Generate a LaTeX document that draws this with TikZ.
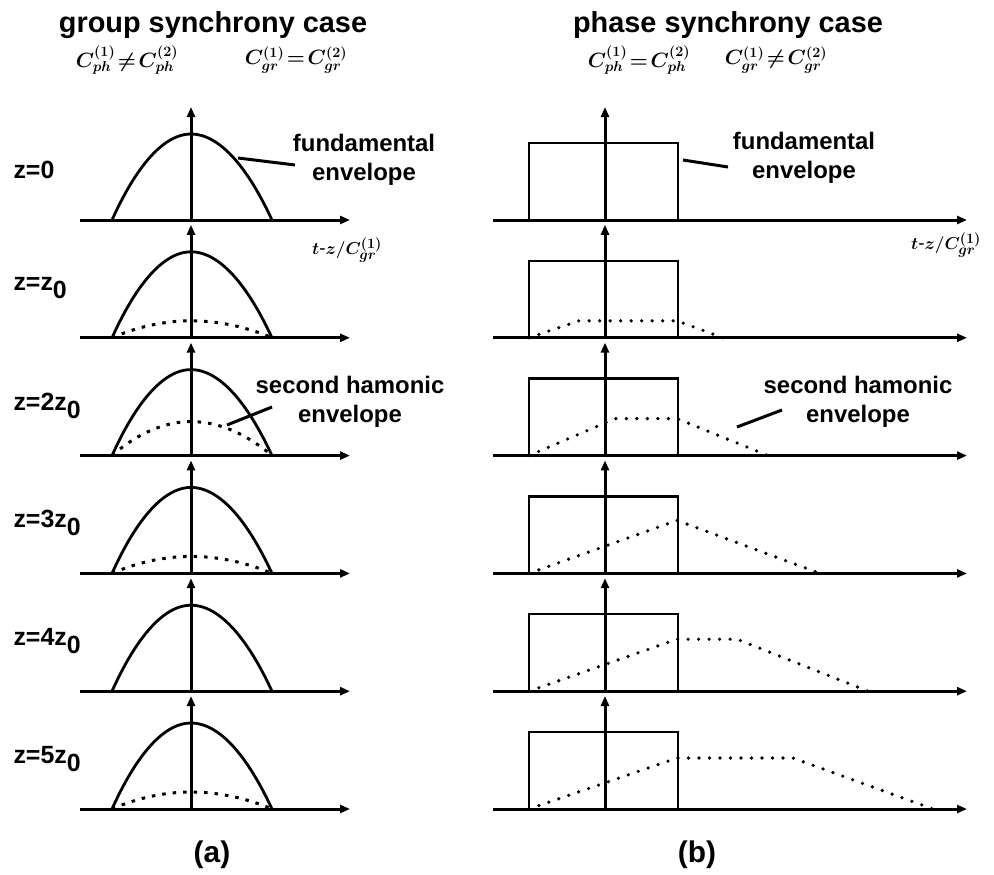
\documentclass[tikz,border=0pt]{standalone}
\usepackage{fontspec}
\setmainfont{Liberation Sans}
\usetikzlibrary{arrows.meta}

% lowered subscript digit in the row labels
\newcommand{\zsub}[1]{\raisebox{-8bp}{#1}}

\begin{document}
\begin{tikzpicture}[x=1bp, y=-1bp,
    axis/.style={line width=3bp, -{Triangle[length=10bp,width=8bp]}},
    fund/.style={line width=2.8bp},
    pulse/.style={line width=2.5bp},
    harmgrp/.style={line width=3bp, dash pattern=on 3.5bp off 7bp},
    harmph/.style={line width=3.6bp, line cap=round, dash pattern=on 0bp off 10.5bp},
    leader/.style={line width=3bp},
    title/.style={font=\fontsize{29}{34}\selectfont\bfseries, anchor=base},
    rowlbl/.style={font=\fontsize{25}{30}\selectfont\bfseries, anchor=west},
    note/.style={font=\fontsize{24}{29}\selectfont\bfseries, align=center},
    formula/.style={font=\fontsize{20}{24}\selectfont\boldmath},
    taxis/.style={font=\fontsize{19}{22}\selectfont\boldmath},
    caption/.style={font=\fontsize{30}{34}\selectfont\bfseries}
  ]
  \useasboundingbox (0,0) rectangle (994,875);

  % titles
  \node[title] (grptitle) at (213,32) {group synchrony case};
  \node[title] (phtitle) at (728,32) {phase synchrony case};
  \node[formula] (grpph) at (127,60) {$C^{(1)}_{ph}\!\neq\! C^{(2)}_{ph}$};
  \node[formula] (grpgr) at (296,60) {$C^{(1)}_{gr}\!=\! C^{(2)}_{gr}$};
  \node[formula] (phph) at (639,60) {$C^{(1)}_{ph}\!=\! C^{(2)}_{ph}$};
  \node[formula] (phgr) at (776,60) {$C^{(1)}_{gr}\!\neq\! C^{(2)}_{gr}$};

  % rows: index / label / dashed height (a) / dotted height, ramp end, flat end, tail end (b)
  \foreach \row/\zlbl/\hgrp/\hph/\rise/\flat/\fall in {
      0/z=0/0/0/529/529/529,
      1/z=z\zsub{0}/17/17/579/677/723,
      2/z=2z\zsub{0}/34/37/615/677/768,
      3/z=3z\zsub{0}/17/53/677/677/820,
      4/z=4z\zsub{0}/0/52/677/737/868,
      5/z=5z\zsub{0}/17/51/677/793/933}{%
    \pgfmathsetmacro\base{220+117.8*\row}
    \node[rowlbl] (zrow\row) at (10,\base-50) {\zlbl};
    % (a) group synchrony
    \ifnum\hgrp>0
      \draw[harmgrp] (112,\base) parabola bend (191,\base-\hgrp) (272,\base);
    \fi
    \draw[fund] (112,\base) parabola bend (191,\base-86) (272,\base);
    \draw[axis] (80,\base) -- (350,\base);
    \draw[axis] (191,\base) -- (191,\base-113);
    % (b) phase synchrony
    \ifnum\hph>0
      \draw[harmph] (529,\base) -- (\rise,\base-\hph) -- (\flat,\base-\hph) -- (\fall,\base);
    \fi
    \draw[pulse] (529,\base) |- (678,\base-77) -- (678,\base);
    \draw[axis] (493,\base) -- (967,\base);
    \draw[axis] (605,\base) -- (605,\base-113);
  }

  % time axis labels
  \node[taxis] (taxa) at (347,250) {$t$-$z/C^{(1)}_{gr}$};
  \node[taxis] (taxb) at (946,245) {$t$-$z/C^{(1)}_{gr}$};

  % envelope notes with leaders
  \node[note] (fundlbla) at (364,160) {fundamental\\envelope};
  \node[note] (fundlblb) at (804,158) {fundamental\\envelope};
  \node[note] (harmlbla) at (350,402) {second hamonic\\envelope};
  \node[note] (harmlblb) at (858,402) {second hamonic\\envelope};
  \coordinate (fundtipa) at (238,158);
  \coordinate (fundenda) at (295,165);
  \coordinate (fundtipb) at (683,160);
  \coordinate (fundendb) at (728,167);
  \coordinate (harmtipa) at (227,425);
  \coordinate (harmenda) at (272,407);
  \coordinate (harmtipb) at (737,427);
  \coordinate (harmendb) at (782,410);
  \draw[leader] (fundtipa) -- (fundenda);
  \draw[leader] (fundtipb) -- (fundendb);
  \draw[leader] (harmtipa) -- (harmenda);
  \draw[leader] (harmtipb) -- (harmendb);

  % captions
  \node[caption] (capa) at (212,855) {(a)};
  \node[caption] (capb) at (697,855) {(b)};
\end{tikzpicture}
\end{document}
